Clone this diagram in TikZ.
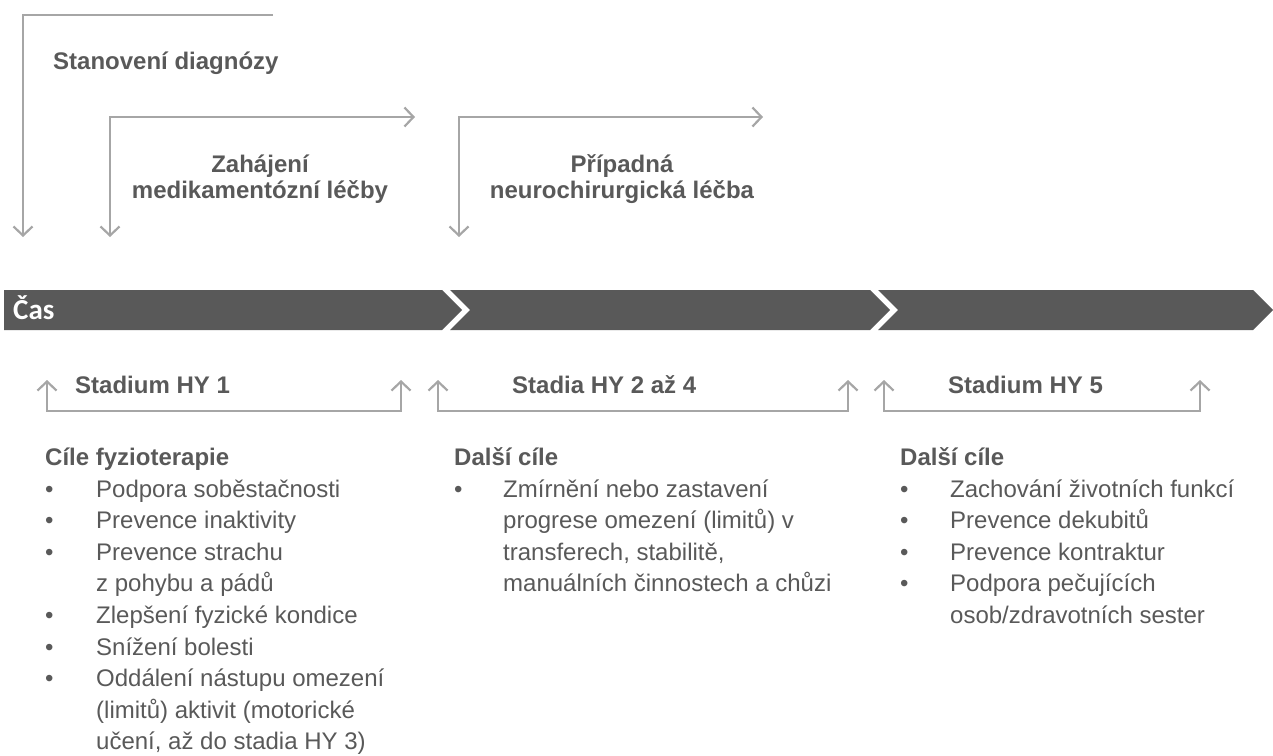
\documentclass[tikz,border=0pt]{standalone}
\usepackage{fontspec}
\setmainfont{Liberation Sans}
\newfontfamily\barfont{Carlito}
\usetikzlibrary{arrows.meta}
\definecolor{txt}{HTML}{595959}
\definecolor{barfill}{HTML}{595959}
\definecolor{guidecol}{HTML}{A6A6A6}

\begin{document}
\begin{tikzpicture}[x=1pt,y=-1pt,
  >={Straight Barb[length=9pt,width=19pt]},
  lbl/.style={font=\fontsize{24}{27}\selectfont\bfseries, text=txt, inner sep=0pt, anchor=base},
  lblw/.style={lbl, anchor=base west},
  body/.style={font=\fontsize{24}{32}\selectfont, text=txt, inner sep=0pt, anchor=base west},
  head/.style={body, font=\fontsize{24}{32}\selectfont\bfseries},
  guide/.style={draw=guidecol, line width=2.2pt},
  seg/.style={fill=barfill, draw=none},
]
\useasboundingbox (0,0) rectangle (1273,755);

% ---- milestones above the time axis ----
\coordinate (m1s) at (273,15);
\coordinate (m1c) at (23,15);
\coordinate (m1e) at (23,237);
\draw[guide, ->] (m1s) -- (m1c) -- (m1e);
\node[lblw] (diag) at (53,69) {Stanovení diagnózy};

\coordinate (m2s) at (110,237);
\coordinate (m2c) at (110,117);
\coordinate (m2e) at (415,117);
\draw[guide, <->] (m2s) -- (m2c) -- (m2e);
\node[lbl] (med1) at (260,172) {Zahájení};
\node[lbl] (med2) at (260,198) {medikamentózní léčby};

\coordinate (m3s) at (459,237);
\coordinate (m3c) at (459,117);
\coordinate (m3e) at (763,117);
\draw[guide, <->] (m3s) -- (m3c) -- (m3e);
\node[lbl] (neu1) at (622,172) {Případná};
\node[lbl] (neu2) at (622,198) {neurochirurgická léčba};

% ---- time axis made of three chevrons ----
\fill[seg] (4,290) -- (442,290) -- (462,310) -- (442,330) -- (4,330) -- cycle;
\fill[seg] (450,290) -- (870,290) -- (890,310) -- (870,330) -- (450,330) -- (470,310) -- cycle;
\fill[seg] (878,290) -- (1253,290) -- (1273,310) -- (1253,330) -- (878,330) -- (898,310) -- cycle;
\node[font=\barfont\fontsize{29}{32}\selectfont\bfseries, text=white, inner sep=0pt, anchor=base west] (cas) at (13,319) {Čas};

% ---- Hoehn--Yahr stage brackets ----
\coordinate (s1a) at (47,380);  \coordinate (s1b) at (47,411);
\coordinate (s1c) at (401,411); \coordinate (s1d) at (401,380);
\draw[guide, <->] (s1a) -- (s1b) -- (s1c) -- (s1d);
\node[lblw] (hy1) at (75,393) {Stadium HY 1};

\coordinate (s2a) at (438,380);  \coordinate (s2b) at (438,411);
\coordinate (s2c) at (848,411);  \coordinate (s2d) at (848,380);
\draw[guide, <->] (s2a) -- (s2b) -- (s2c) -- (s2d);
\node[lblw] (hy24) at (512,393) {Stadia HY 2 až 4};

\coordinate (s3a) at (884,380);  \coordinate (s3b) at (884,411);
\coordinate (s3c) at (1200,411); \coordinate (s3d) at (1200,380);
\draw[guide, <->] (s3a) -- (s3b) -- (s3c) -- (s3d);
\node[lblw] (hy5) at (948,393) {Stadium HY 5};

% ---- goals, stage HY 1 ----
\node[head] (g1h) at (45,465) {Cíle fyzioterapie};
\node[body] (g1b1) at (45,497)   {•};
\node[body] (g1t1) at (96,497)   {Podpora soběstačnosti};
\node[body] (g1b2) at (45,528.6) {•};
\node[body] (g1t2) at (96,528.6) {Prevence inaktivity};
\node[body] (g1b3) at (45,560.2) {•};
\node[body] (g1t3) at (96,560.2) {Prevence strachu};
\node[body] (g1t4) at (96,591.8) {z pohybu a pádů};
\node[body] (g1b5) at (45,623.4) {•};
\node[body] (g1t5) at (96,623.4) {Zlepšení fyzické kondice};
\node[body] (g1b6) at (45,655)   {•};
\node[body] (g1t6) at (96,655)   {Snížení bolesti};
\node[body] (g1b7) at (45,686.6) {•};
\node[body] (g1t7) at (96,686.6) {Oddálení nástupu omezení};
\node[body] (g1t8) at (96,718.2) {(limitů) aktivit (motorické};
\node[body] (g1t9) at (96,749.8) {učení, až do stadia HY 3)};

% ---- goals, stages HY 2 to 4 ----
\node[head] (g2h) at (454,465) {Další cíle};
\node[body] (g2b1) at (454,497)   {•};
\node[body] (g2t1) at (503,497)   {Zmírnění nebo zastavení};
\node[body] (g2t2) at (503,528.6) {progrese omezení (limitů) v};
\node[body] (g2t3) at (503,560.2) {transferech, stabilitě,};
\node[body] (g2t4) at (503,591.8) {manuálních činnostech a chůzi};

% ---- goals, stage HY 5 ----
\node[head] (g3h) at (900,465) {Další cíle};
\node[body] (g3b1) at (900,497)   {•};
\node[body] (g3t1) at (950,497)   {Zachování životních funkcí};
\node[body] (g3b2) at (900,528.6) {•};
\node[body] (g3t2) at (950,528.6) {Prevence dekubitů};
\node[body] (g3b3) at (900,560.2) {•};
\node[body] (g3t3) at (950,560.2) {Prevence kontraktur};
\node[body] (g3b4) at (900,591.8) {•};
\node[body] (g3t4) at (950,591.8) {Podpora pečujících};
\node[body] (g3t5) at (950,623.4) {osob/zdravotních sester};
\end{tikzpicture}
\end{document}
